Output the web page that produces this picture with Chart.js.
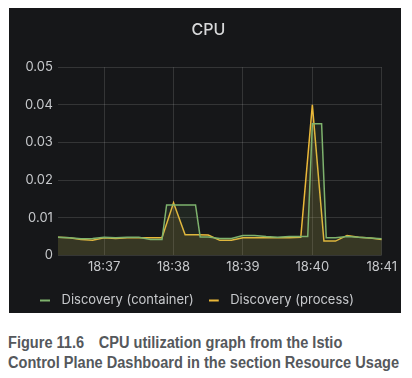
<!DOCTYPE html>
<html>
<head>
<meta charset="utf-8">
<script src="https://cdn.jsdelivr.net/npm/chart.js@4/dist/chart.umd.min.js"></script>
<style>
  html, body { margin: 0; padding: 0; background: #fff; }
  body { width: 412px; height: 378px; position: relative; overflow: hidden; }
  .panel {
    position: absolute; left: 9px; top: 8px; width: 392px; height: 305px;
    background: #161719;
  }
  .panel .wrap { position: absolute; left: 0; top: 0; width: 392px; height: 305px; }
  .caption {
    position: absolute; left: 8px; top: 333px;
    font: bold 16px "Liberation Sans", Arial, sans-serif;
    color: #55585c; line-height: 20px; white-space: nowrap;
    transform-origin: 0 0;
  }
  .caption .fig { margin-right: 16px; }
</style>
</head>
<body>
<div class="panel"><div class="wrap"><canvas id="cpuChart"></canvas></div></div>
<div class="caption" id="caption">
  <div><span class="fig">Figure 11.6</span>CPU utilization graph from the Istio</div>
  <div id="cap2">Control Plane Dashboard in the section Resource Usage</div>
</div>
<script>
// ─── DATA ─────────────────────────────────────────────────
// time = seconds after 18:36:00
const PROCESS_T = [20, 30, 40, 50, 60, 70, 80, 90, 100, 110, 120, 130, 140, 150, 160,
                   170, 180, 190, 200, 210, 220, 230, 240, 250, 260, 270, 280, 290, 300];
const PROCESS_V = [0.0048, 0.0047, 0.0042, 0.0040, 0.0047, 0.0045, 0.0047, 0.0047, 0.0047, 0.0047,
                   0.0140, 0.0055, 0.0055, 0.0054, 0.0040, 0.0040, 0.0047, 0.0047, 0.0047, 0.0047,
                   0.0047, 0.0048, 0.0400, 0.0038, 0.0038, 0.0053, 0.0048, 0.0046, 0.0042];

const CONTAINER_T = [20, 30, 40, 50, 60, 70, 80, 90, 100, 110, 114, 139, 143, 150, 160, 170,
                     180, 190, 200, 210, 220, 230, 236, 240, 248, 252, 260, 270, 280, 290, 300];
const CONTAINER_V = [0.0048, 0.0047, 0.0044, 0.0045, 0.0048, 0.0047, 0.0048, 0.0048, 0.0042, 0.0042,
                     0.0134, 0.0134, 0.0049, 0.0049, 0.0045, 0.0045, 0.0053, 0.0053, 0.0050, 0.0048,
                     0.0050, 0.0050, 0.0050, 0.0350, 0.0350, 0.0047, 0.0047, 0.0050, 0.0048, 0.0046, 0.0044];

const X_TICKS = [60, 120, 180, 240, 300];
const X_LABELS = ['18:37', '18:38', '18:39', '18:40', '18:41'];
const Y_TICKS = [0, 0.01, 0.02, 0.03, 0.04, 0.05];
const Y_LABELS = ['0', '0.01', '0.02', '0.03', '0.04', '0.05'];

const SERIES = ['Discovery (container)', 'Discovery (process)'];

// ─── COLORS ───────────────────────────────────────────────
const C = {
  green:  '#7eb26d',
  yellow: '#eab839',
  text:   '#c7c9cc',
  grid:   'rgba(255,255,255,0.13)',
};

const pts = (ts, vs) => ts.map((t, i) => ({ x: t, y: vs[i] }));

// legend marker: short dash on the left of a wider transparent box
function dash(color) {
  const c = document.createElement('canvas');
  c.width = 15; c.height = 4;
  const g = c.getContext('2d');
  g.fillStyle = color;
  g.fillRect(0, 1, 10, 2);
  return c;
}

// nudge the legend right so it lines up under the plot like Grafana's
const legendShift = {
  id: 'legendShift',
  afterLayout(chart) {
    chart.legend.left += 5;
    chart.legend.right += 5;
  },
};

new Chart(document.getElementById('cpuChart'), {
  type: 'line',
  data: {
    datasets: [
      {
        label: SERIES[0],
        data: pts(CONTAINER_T, CONTAINER_V),
        borderColor: C.green,
        backgroundColor: 'rgba(126,178,109,0.10)',
        borderWidth: 1.5,
        fill: 'origin',
        pointRadius: 0,
        pointStyle: dash(C.green),
        tension: 0,
      },
      {
        label: SERIES[1],
        data: pts(PROCESS_T, PROCESS_V),
        borderColor: C.yellow,
        backgroundColor: 'rgba(234,184,57,0.12)',
        borderWidth: 1.5,
        fill: 'origin',
        pointRadius: 0,
        pointStyle: dash(C.yellow),
        tension: 0,
      },
    ],
  },
  plugins: [legendShift],
  options: {
    responsive: true,
    maintainAspectRatio: false,
    animation: false,
    layout: { padding: { left: 11, right: 4, top: 0, bottom: -4 } },
    plugins: {
      title: {
        display: true,
        text: 'CPU',
        color: '#d8d9da',
        font: { family: 'Inter', size: 16, weight: '500' },
        padding: { top: 13, bottom: 27 },
      },
      legend: {
        position: 'bottom',
        align: 'start',
        labels: {
          color: C.text,
          font: { family: 'Inter', size: 13 },
          usePointStyle: true,
          pointStyleWidth: 15,
          padding: 15,
        },
      },
      tooltip: { enabled: false },
    },
    scales: {
      x: {
        type: 'linear',
        min: PROCESS_T[0],
        max: PROCESS_T[PROCESS_T.length - 1],
        afterBuildTicks: axis => { axis.ticks = X_TICKS.map(v => ({ value: v })); },
        grid: { color: C.grid, drawTicks: false },
        border: { display: false },
        ticks: {
          color: C.text,
          font: { family: 'Inter', size: 13 },
          padding: 4,
          maxRotation: 0,
          callback: v => X_LABELS[X_TICKS.indexOf(v)],
        },
      },
      y: {
        min: 0,
        max: 0.05,
        afterBuildTicks: axis => { axis.ticks = Y_TICKS.map(v => ({ value: v })); },
        grid: { color: C.grid, drawTicks: false },
        border: { display: false },
        ticks: {
          color: C.text,
          font: { family: 'Inter', size: 13 },
          padding: 5,
          callback: v => Y_LABELS[Y_TICKS.indexOf(v)],
        },
      },
    },
  },
});

// squeeze the caption to the width of the printed figure caption
const cap = document.getElementById('caption');
const w2 = document.getElementById('cap2').getBoundingClientRect().width;
cap.style.transform = 'scaleX(' + (391 / w2) + ')';
</script>
</body>
</html>
